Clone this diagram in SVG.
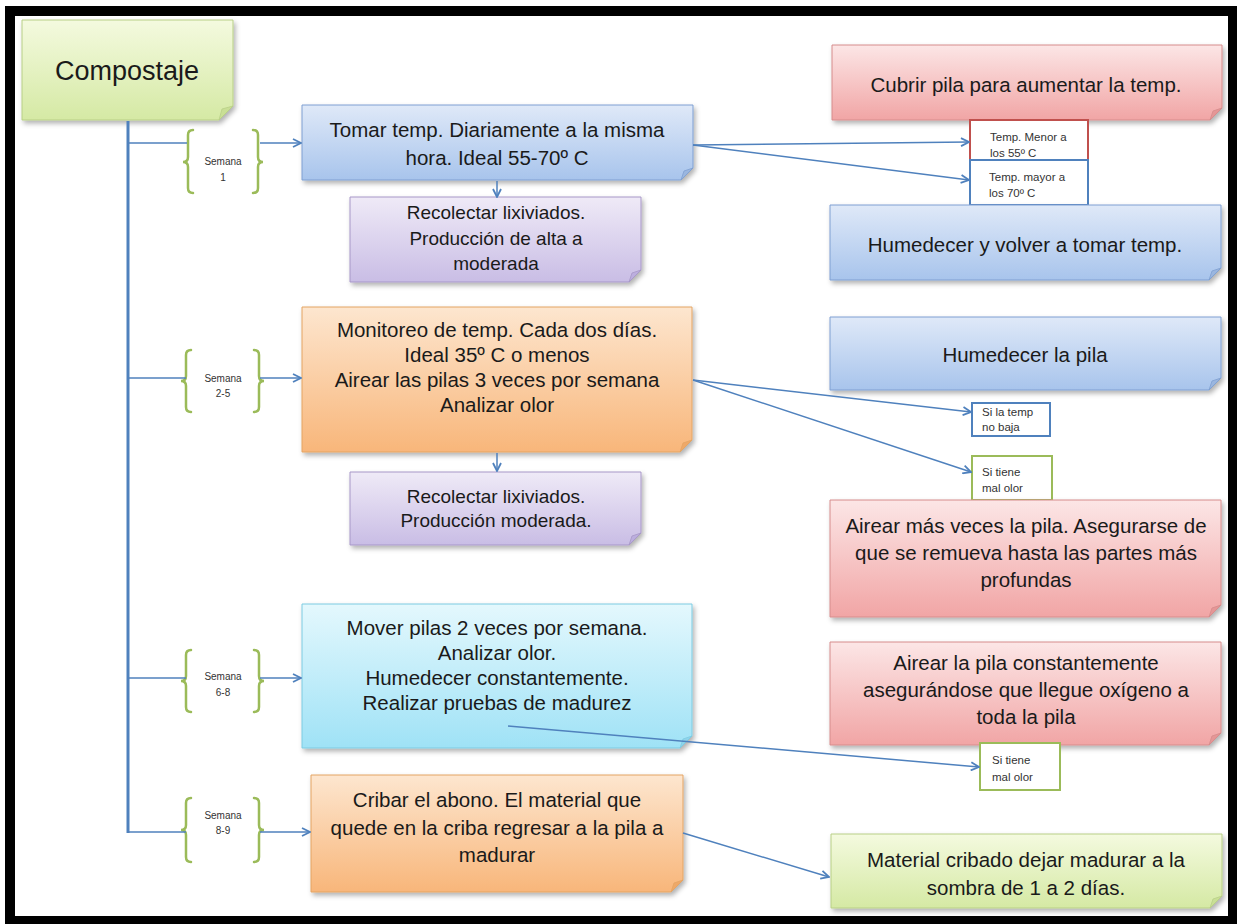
<svg xmlns="http://www.w3.org/2000/svg" width="1237" height="924" viewBox="0 0 1237 924">
<defs>
<linearGradient id="gGreen" x1="0" y1="0" x2="0" y2="1"><stop offset="0" stop-color="#f4fadf"/><stop offset="1" stop-color="#d5e9a4"/></linearGradient>
<linearGradient id="gBlue" x1="0" y1="0" x2="0" y2="1"><stop offset="0" stop-color="#dfe9f8"/><stop offset="1" stop-color="#a8c4ec"/></linearGradient>
<linearGradient id="gPurple" x1="0" y1="0" x2="0" y2="1"><stop offset="0" stop-color="#efeaf7"/><stop offset="1" stop-color="#c9bde5"/></linearGradient>
<linearGradient id="gOrange" x1="0" y1="0" x2="0" y2="1"><stop offset="0" stop-color="#fde6cf"/><stop offset="1" stop-color="#f8b67a"/></linearGradient>
<linearGradient id="gRed" x1="0" y1="0" x2="0" y2="1"><stop offset="0" stop-color="#fce6e6"/><stop offset="1" stop-color="#f1a5a5"/></linearGradient>
<linearGradient id="gCyan" x1="0" y1="0" x2="0" y2="1"><stop offset="0" stop-color="#e4f8fd"/><stop offset="1" stop-color="#9fe2f6"/></linearGradient>
<filter id="shadow" x="-10%" y="-10%" width="120%" height="130%"><feDropShadow dx="2" dy="3" stdDeviation="2.5" flood-color="#000" flood-opacity="0.3"/></filter>
<marker id="arr" viewBox="0 0 10 10" refX="9" refY="5" markerWidth="10" markerHeight="10" markerUnits="userSpaceOnUse" orient="auto"><path d="M1,1 L9,5 L1,9" fill="none" stroke="#4f81bd" stroke-width="1.8"/></marker>
</defs>
<style>
.t{font-family:"Liberation Sans",Arial,sans-serif;font-size:20.5px;fill:#1a1a1a;text-anchor:middle}
.tp{font-family:"Liberation Sans",Arial,sans-serif;font-size:19px;fill:#1a1a1a;text-anchor:middle}
.ts{font-family:"Liberation Sans",Arial,sans-serif;font-size:11.5px;fill:#333}
.tw{font-family:"Liberation Sans",Arial,sans-serif;font-size:10px;fill:#333;text-anchor:middle}
.green{fill:url(#gGreen);stroke:#b8cf86;stroke-width:1}
.blue{fill:url(#gBlue);stroke:#7f9fd2;stroke-width:1}
.purple{fill:url(#gPurple);stroke:#a797c8;stroke-width:1}
.orange{fill:url(#gOrange);stroke:#e4a463;stroke-width:1}
.red{fill:url(#gRed);stroke:#d68c8c;stroke-width:1}
.cyan{fill:url(#gCyan);stroke:#7ccbe2;stroke-width:1}
.fold{stroke-width:0.8}
.sh{filter:url(#shadow)}
.brace{fill:none;stroke:#9bbb59;stroke-width:2.5;stroke-linecap:round}
.conn{fill:none;stroke:#4f81bd;stroke-width:1.5}
.trunk{fill:none;stroke:#4f81bd;stroke-width:3}
.lbl{fill:#fff;stroke-width:2}
</style>
<rect x="0" y="0" width="1237" height="924" fill="#fff"/>
<rect x="10" y="11" width="1223" height="910" fill="none" stroke="#000" stroke-width="10"/>

<g id="n-compostaje">
<path class="green sh" d="M22,20 H233 V106 L219,120 H22 Z"/>
<path class="green fold" d="M233,106 L219,120 L222,109 Z" style="fill:#c9df95"/>
<text class="t" x="127" y="80" style="font-size:27px">Compostaje</text>
</g>

<g id="n-semana1">
<path class="brace" d="M193,130 Q188,130 188,135 V157 Q188,162 183,162 Q188,162 188,167 V188 Q188,193 193,193"/>
<path class="brace" d="M253,130 Q258,130 258,135 V157 Q258,162 263,162 Q258,162 258,167 V188 Q258,193 253,193"/>
<text class="tw" x="223" y="165">Semana</text>
<text class="tw" x="223" y="181">1</text>
</g>
<g id="n-semana2-5">
<path class="brace" d="M191,350 Q186,350 186,355 V376 Q186,381 181,381 Q186,381 186,386 V407 Q186,412 191,412"/>
<path class="brace" d="M254,350 Q259,350 259,355 V376 Q259,381 264,381 Q259,381 259,386 V407 Q259,412 254,412"/>
<text class="tw" x="223" y="382">Semana</text>
<text class="tw" x="223" y="397">2-5</text>
</g>
<g id="n-semana6-8">
<path class="brace" d="M191,650 Q186,650 186,655 V676 Q186,681 181,681 Q186,681 186,686 V707 Q186,712 191,712"/>
<path class="brace" d="M254,650 Q259,650 259,655 V676 Q259,681 264,681 Q259,681 259,686 V707 Q259,712 254,712"/>
<text class="tw" x="223" y="680">Semana</text>
<text class="tw" x="223" y="696">6-8</text>
</g>
<g id="n-semana8-9">
<path class="brace" d="M191,798 Q186,798 186,803 V825 Q186,830 181,830 Q186,830 186,835 V857 Q186,862 191,862"/>
<path class="brace" d="M254,798 Q259,798 259,803 V825 Q259,830 264,830 Q259,830 259,835 V857 Q259,862 254,862"/>
<text class="tw" x="223" y="819">Semana</text>
<text class="tw" x="223" y="834">8-9</text>
</g>

<g id="n-tomar">
<path class="blue sh" d="M302,105 H693 V168 L681,180 H302 Z"/>
<path class="blue fold" d="M693,168 L681,180 L684,171 Z" style="fill:#9ab6df"/>
<text class="t" x="497" y="137">Tomar temp. Diariamente a la misma</text>
<text class="t" x="497" y="165">hora. Ideal 55-70º C</text>
</g>

<g id="n-recolectar1">
<path class="purple sh" d="M350,197 H641 V270 L629,282 H350 Z"/>
<path class="purple fold" d="M641,270 L629,282 L632,273 Z" style="fill:#bcaede"/>
<text class="tp" x="496" y="219">Recolectar lixiviados.</text>
<text class="tp" x="496" y="245">Producción de alta a</text>
<text class="tp" x="496" y="270">moderada</text>
</g>

<g id="n-cubrir">
<path class="red sh" d="M832,45 H1222 V108 L1210,120 H832 Z"/>
<path class="red fold" d="M1222,108 L1210,120 L1213,111 Z" style="fill:#e59696"/>
<text class="t" x="1026" y="92">Cubrir pila para aumentar la temp.</text>
</g>

<g id="n-menor55">
<rect class="lbl" x="970" y="120" width="118" height="40" stroke="#c0504d"/>
<text class="ts" x="990" y="141">Temp. Menor a</text>
<text class="ts" x="990" y="157">los 55º C</text>
</g>
<g id="n-mayor70">
<rect class="lbl" x="970" y="160" width="118" height="45" stroke="#4f81bd"/>
<text class="ts" x="989" y="181">Temp. mayor a</text>
<text class="ts" x="989" y="197">los 70º C</text>
</g>

<g id="n-humedecer-volver">
<path class="blue sh" d="M830,205 H1221 V268 L1209,280 H830 Z"/>
<path class="blue fold" d="M1221,268 L1209,280 L1212,271 Z" style="fill:#9ab6df"/>
<text class="t" x="1025" y="252">Humedecer y volver a tomar temp.</text>
</g>

<g id="n-monitoreo">
<path class="orange sh" d="M302,307 H692 V440 L680,452 H302 Z"/>
<path class="orange fold" d="M692,440 L680,452 L683,443 Z" style="fill:#eea868"/>
<text class="t" x="497" y="337">Monitoreo de temp. Cada dos días.</text>
<text class="t" x="497" y="362">Ideal 35º C o menos</text>
<text class="t" x="497" y="387">Airear las pilas 3 veces por semana</text>
<text class="t" x="497" y="412">Analizar olor</text>
</g>

<g id="n-recolectar2">
<path class="purple sh" d="M350,472 H641 V533 L629,545 H350 Z"/>
<path class="purple fold" d="M641,533 L629,545 L632,536 Z" style="fill:#bcaede"/>
<text class="tp" x="496" y="503">Recolectar lixiviados.</text>
<text class="tp" x="496" y="527">Producción moderada.</text>
</g>

<g id="n-humedecer-pila">
<path class="blue sh" d="M830,317 H1221 V378 L1209,390 H830 Z"/>
<path class="blue fold" d="M1221,378 L1209,390 L1212,381 Z" style="fill:#9ab6df"/>
<text class="t" x="1025" y="362">Humedecer la pila</text>
</g>

<g id="n-si-temp">
<rect class="lbl" x="972" y="403" width="78" height="33" stroke="#4f81bd"/>
<text class="ts" x="982" y="416">Si la temp</text>
<text class="ts" x="982" y="431">no baja</text>
</g>
<g id="n-si-olor1">
<rect class="lbl" x="972" y="456" width="80" height="44" stroke="#9bbb59"/>
<text class="ts" x="982" y="476">Si tiene</text>
<text class="ts" x="982" y="492">mal olor</text>
</g>

<g id="n-airear-mas">
<path class="red sh" d="M830,500 H1221 V605 L1209,617 H830 Z"/>
<path class="red fold" d="M1221,605 L1209,617 L1212,608 Z" style="fill:#e59696"/>
<text class="t" x="1026" y="533">Airear más veces la pila. Asegurarse de</text>
<text class="t" x="1026" y="560">que se remueva hasta las partes más</text>
<text class="t" x="1026" y="587">profundas</text>
</g>

<g id="n-mover">
<path class="cyan sh" d="M302,604 H692 V736 L680,748 H302 Z"/>
<path class="cyan fold" d="M692,736 L680,748 L683,739 Z" style="fill:#8fd3ea"/>
<text class="t" x="497" y="635">Mover pilas 2 veces por semana.</text>
<text class="t" x="497" y="660">Analizar olor.</text>
<text class="t" x="497" y="685">Humedecer constantemente.</text>
<text class="t" x="497" y="710">Realizar pruebas de madurez</text>
</g>

<g id="n-airear-const">
<path class="red sh" d="M830,642 H1221 V733 L1209,745 H830 Z"/>
<path class="red fold" d="M1221,733 L1209,745 L1212,736 Z" style="fill:#e59696"/>
<text class="t" x="1026" y="670">Airear la pila constantemente</text>
<text class="t" x="1026" y="697">asegurándose que llegue oxígeno a</text>
<text class="t" x="1026" y="724">toda la pila</text>
</g>

<g id="n-si-olor2">
<rect class="lbl" x="980" y="743" width="80" height="47" stroke="#9bbb59"/>
<text class="ts" x="992" y="764">Si tiene</text>
<text class="ts" x="992" y="781">mal olor</text>
</g>

<g id="n-cribar">
<path class="orange sh" d="M311,775 H683 V880 L671,892 H311 Z"/>
<path class="orange fold" d="M683,880 L671,892 L674,883 Z" style="fill:#eea868"/>
<text class="t" x="497" y="807">Cribar el abono. El material que</text>
<text class="t" x="497" y="835">quede en la criba regresar a la pila a</text>
<text class="t" x="497" y="862">madurar</text>
</g>

<g id="n-material">
<path class="green sh" d="M831,834 H1222 V896 L1210,908 H831 Z"/>
<path class="green fold" d="M1222,896 L1210,908 L1213,899 Z" style="fill:#c9df95"/>
<text class="t" x="1026" y="867">Material cribado dejar madurar a la</text>
<text class="t" x="1026" y="895">sombra de 1 a 2 días.</text>
</g>

<g id="connectors">
<path class="trunk" d="M128,121 V833"/>
<path class="conn" d="M128,143 H187"/>
<path class="conn" d="M260,143 H301" marker-end="url(#arr)"/>
<path class="conn" d="M128,378 H186"/>
<path class="conn" d="M260,378 H301" marker-end="url(#arr)"/>
<path class="conn" d="M128,678 H186"/>
<path class="conn" d="M260,678 H301" marker-end="url(#arr)"/>
<path class="conn" d="M128,832 H186"/>
<path class="conn" d="M260,832 H310" marker-end="url(#arr)"/>
<path class="conn" d="M497,181 V197" marker-end="url(#arr)"/>
<path class="conn" d="M497,453 V471" marker-end="url(#arr)"/>
<path class="conn" d="M693,145 L969,142" marker-end="url(#arr)"/>
<path class="conn" d="M693,145 L969,180" marker-end="url(#arr)"/>
<path class="conn" d="M693,380 L971,412" marker-end="url(#arr)"/>
<path class="conn" d="M693,380 L971,472" marker-end="url(#arr)"/>
<path class="conn" d="M508,726 L979,767" marker-end="url(#arr)"/>
<path class="conn" d="M683,833 L829,877" marker-end="url(#arr)"/>
</g>
</svg>
